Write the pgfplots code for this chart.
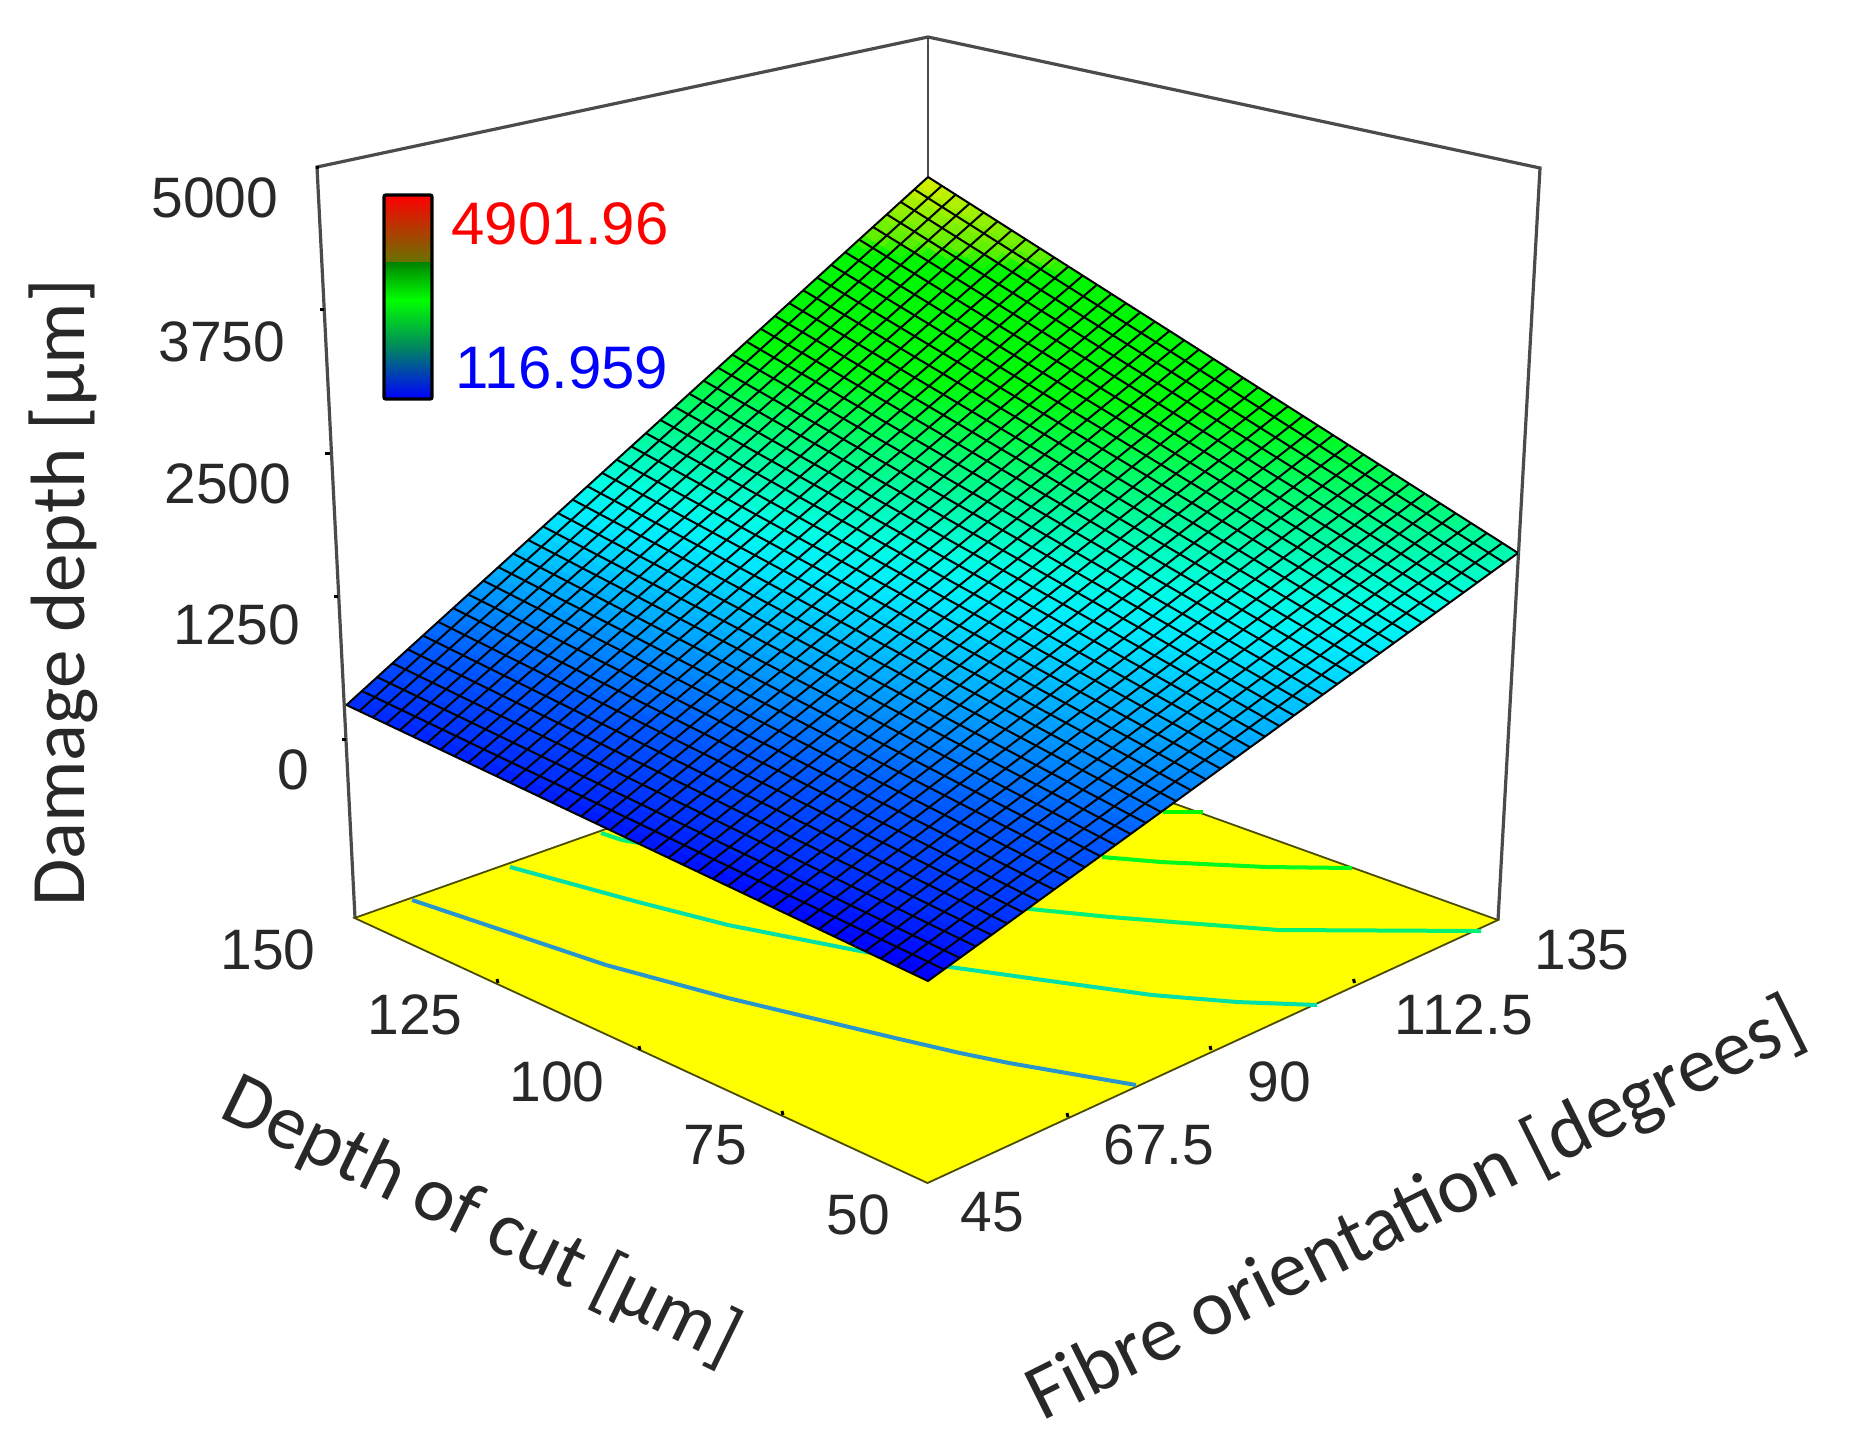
\documentclass[border=0pt]{standalone}
\usepackage{fontspec}
\setmainfont{Liberation Sans}
\newfontfamily\titlefont{Carlito}
\usepackage{pgfplots}
\pgfplotsset{compat=1.18}
\usepgfplotslibrary{patchplots}

% axis units are pixels of the picture: the plot is a perspective view
\definecolor{frameline}{RGB}{75,75,75}
\definecolor{ticktext}{RGB}{40,40,40}
\definecolor{floorc}{RGB}{255,255,0}
\definecolor{cA}{RGB}{40,150,205}
\definecolor{cB}{RGB}{0,225,170}
\definecolor{cC}{RGB}{0,240,120}
\definecolor{cD}{RGB}{0,250,30}
\definecolor{cE}{RGB}{0,250,0}
\newcommand{\ticklab}[3]{\node[font=\fontsize{28.5pt}{30pt}\selectfont,text=ticktext,inner sep=0pt] at (axis cs:#1,#2) {#3};}

\begin{document}
\begin{tikzpicture}
\useasboundingbox (0,0) rectangle (927.5pt,720pt);
\begin{axis}[
  at={(0,0)}, anchor=south west,
  scale only axis, width=927.5pt, height=720pt,
  xmin=0, xmax=1855, ymin=0, ymax=1440, y dir=reverse,
  hide axis, clip=false,
  point meta min=117, point meta max=4902,
  colormap={damage}{
    rgb255(1.17cm)=(0,0,255);
    rgb255(4cm)=(0,45,255);
    rgb255(9cm)=(0,90,255);
    rgb255(15cm)=(0,170,255);
    rgb255(20cm)=(0,235,255);
    rgb255(23cm)=(0,255,225);
    rgb255(26cm)=(0,250,170);
    rgb255(30cm)=(0,252,90);
    rgb255(34cm)=(0,250,10);
    rgb255(42.5cm)=(0,245,0);
    rgb255(43.5cm)=(90,240,0);
    rgb255(46cm)=(150,240,0);
    rgb255(49.02cm)=(240,240,0)
  },
]
% box edges
\addplot[frameline, line width=1.6pt] coordinates {(355,918) (317,167) (928,37) (1540,168) (1498,920)};
\addplot[frameline, line width=1.4pt] coordinates {(928,37) (928,178)};
% z ticks
\addplot[black, line width=1.5pt, empty line=jump] table {
316 167
319 167

320 309
324 309

325 453.6
330 453.6

334 596
338 596

342 739.6
346 739.6
};
% floor
\addplot[fill=floorc, draw=black!70!floorc, line width=0.9pt] coordinates {(927.5,1183) (1498,920) (928,715) (354.5,918)} -- cycle;
% floor ticks
\addplot[black, line width=1.5pt, empty line=jump] table {
498 983
497 979

640 1050
639 1046

783 1115
782 1111

1068 1117
1067 1113

1211 1050
1210 1046

1354.5 983
1353.5 979
};
% contours on the floor
\addplot[cA, line width=2pt] coordinates {(412,900) (606,965) (728,998) (895,1038) (960,1053) (1009,1063) (1136,1085)};
\addplot[cB, line width=2pt] coordinates {(510,867) (638,902) (728,925) (855,950) (950,967) (1043,980) (1152,995) (1237,1002) (1317,1005)};
\addplot[cC, line width=2pt] coordinates {(601,833) (622,840) (1030,909) (1110,917) (1186,923) (1279,930) (1481,931)};
\addplot[cD, line width=2pt] coordinates {(1102,857) (1161,862) (1266,867) (1352,868)};
\addplot[cE, line width=2pt] coordinates {(1163,812) (1203,812)};
% surface: screen x, screen y, damage depth at the four corners
\addplot[patch, patch type=bilinear, shader=interp, point meta=explicit] table[x=px, y=py, meta=z] {
px py z
928 981 117
1518 553 2600
928 177 4902
346.5 705 400
};
% mesh, lines of constant depth of cut
\addplot[black, line width=1pt, empty line=jump] table {
928 981
1518 553

912.2 973.5
1502.3 543.0

896.5 966.1
1486.7 533.1

880.9 958.6
1471.1 523.1

865.3 951.2
1455.6 513.2

849.8 943.9
1440.1 503.3

834.3 936.5
1424.7 493.5

818.9 929.2
1409.3 483.7

803.6 922.0
1393.9 473.9

788.3 914.7
1378.6 464.2

773.1 907.5
1363.4 454.5

758.0 900.3
1348.2 444.8

742.9 893.2
1333.0 435.1

727.9 886.0
1317.9 425.5

712.9 878.9
1302.9 415.9

698.0 871.9
1287.8 406.3

683.2 864.8
1272.9 396.8

668.4 857.8
1258.0 387.3

653.7 850.8
1243.1 377.8

639.1 843.9
1228.3 368.4

624.5 837.0
1213.5 358.9

610.0 830.1
1198.8 349.6

595.5 823.2
1184.1 340.2

581.1 816.4
1169.5 330.9

566.8 809.6
1154.9 321.6

552.5 802.8
1140.3 312.3

538.3 796.1
1125.9 303.1

524.2 789.3
1111.4 293.9

510.1 782.7
1097.0 284.7

496.1 776.0
1082.7 275.6

482.1 769.4
1068.4 266.5

468.2 762.8
1054.1 257.4

454.4 756.2
1039.9 248.3

440.6 749.7
1025.8 239.3

426.9 743.2
1011.7 230.3

413.3 736.7
997.6 221.3

399.7 730.3
983.6 212.4

386.2 723.9
969.6 203.5

372.7 717.5
955.7 194.6

359.3 711.1
941.8 185.8

346.5 705
928 177
};
% mesh, lines of constant fibre orientation
\addplot[black, line width=1pt, empty line=jump] table {
928 981
346.5 705

944.0 969.4
361.9 691.0

959.9 957.9
377.2 677.1

975.7 946.4
392.5 663.2

991.5 934.9
407.8 649.4

1007.2 923.5
423.0 635.6

1022.9 912.2
438.1 621.8

1038.5 900.9
453.2 608.1

1054.0 889.6
468.3 594.4

1069.5 878.4
483.4 580.7

1084.9 867.2
498.3 567.1

1100.2 856.1
513.3 553.6

1115.5 845.0
528.2 540.0

1130.7 834.0
543.1 526.5

1145.9 823.0
557.9 513.1

1161.0 812.0
572.7 499.7

1176.0 801.1
587.4 486.3

1191.0 790.2
602.1 472.9

1205.9 779.4
616.7 459.6

1220.7 768.7
631.3 446.4

1235.5 757.9
645.9 433.2

1250.2 747.3
660.4 420.0

1264.9 736.6
674.9 406.9

1279.5 726.0
689.3 393.7

1294.0 715.5
703.7 380.7

1308.5 705.0
718.0 367.7

1322.9 694.6
732.3 354.7

1337.2 684.1
746.6 341.7

1351.5 673.8
760.8 328.8

1365.7 663.5
775.0 316.0

1379.9 653.2
789.1 303.1

1394.0 643.0
803.2 290.3

1408.0 632.8
817.2 277.6

1422.0 622.7
831.2 264.9

1435.9 612.6
845.2 252.2

1449.7 602.5
859.1 239.6

1463.5 592.5
873.0 227.0

1477.2 582.6
886.8 214.4

1490.9 572.7
900.6 201.9

1504.5 562.8
914.3 189.4

1518 553
928 177
};
% tick labels
\ticklab{215}{198}{5000}
\ticklab{222}{342}{3750}
\ticklab{228}{484}{2500}
\ticklab{237}{625}{1250}
\ticklab{293}{770}{0}
\ticklab{268}{950}{150}
\ticklab{415}{1015}{125}
\ticklab{557}{1082}{100}
\ticklab{715}{1145}{75}
\ticklab{858}{1215}{50}
\ticklab{992}{1212}{45}
\ticklab{1159}{1145}{67.5}
\ticklab{1279}{1082}{90}
\ticklab{1464}{1015}{112.5}
\ticklab{1582}{950}{135}
% axis titles
\node[font=\titlefont\fontsize{38.5pt}{40pt}\selectfont, text=ticktext, rotate=90, inner sep=0pt] at (axis cs:63,593) {Damage depth [µm]};
\node[font=\titlefont\fontsize{39pt}{41pt}\selectfont, text=ticktext, rotate=-26, inner sep=0pt] at (axis cs:481,1221) {Depth of cut [µm]};
\node[font=\titlefont\fontsize{39.5pt}{41pt}\selectfont, text=ticktext, rotate=26.5, inner sep=0pt] at (axis cs:1416,1211) {Fibre orientation [degrees]};
% legend bar
\shade[top color=red, bottom color={rgb,255:red,105;green,115;blue,0}] (axis cs:384,195) rectangle (axis cs:432,262);
\shade[top color={rgb,255:red,0;green,130;blue,0}, bottom color={rgb,255:red,0;green,255;blue,0}] (axis cs:384,262) rectangle (axis cs:432,300);
\shade[top color={rgb,255:red,0;green,255;blue,0}, bottom color={rgb,255:red,0;green,140;blue,90}] (axis cs:384,300) rectangle (axis cs:432,345);
\shade[top color={rgb,255:red,0;green,140;blue,90}, bottom color=blue] (axis cs:384,345) rectangle (axis cs:432,399);
\draw[black, line width=1.7pt, rounded corners=1pt] (axis cs:384,195) rectangle (axis cs:432,399);
\node[font=\fontsize{30pt}{32pt}\selectfont, text=red, inner sep=0pt] at (axis cs:560,224) {4901.96};
\node[font=\fontsize{30pt}{32pt}\selectfont, text=blue, inner sep=0pt] at (axis cs:562,368) {116.959};
\end{axis}
\end{tikzpicture}
\end{document}
